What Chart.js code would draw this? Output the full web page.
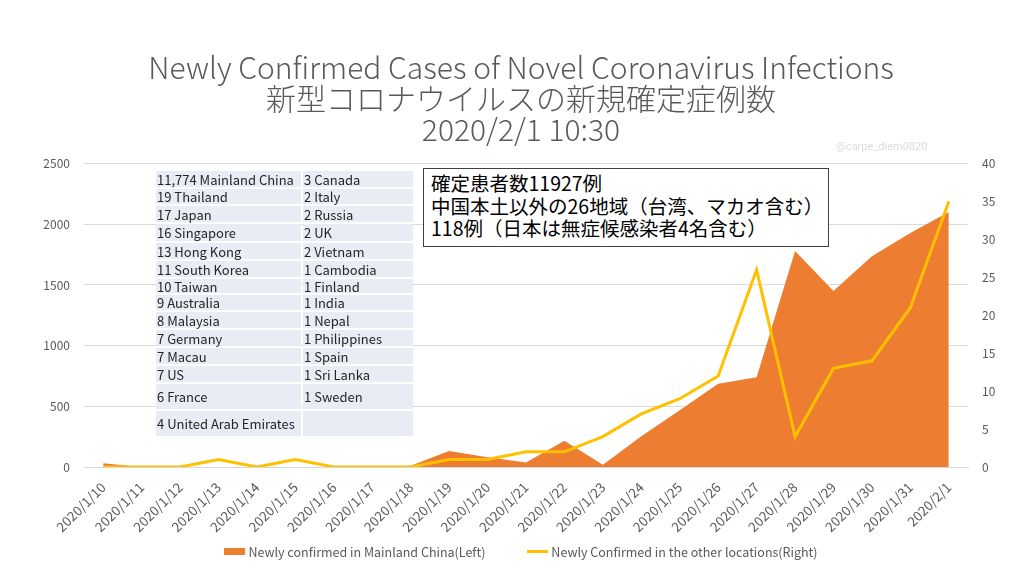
<!DOCTYPE html>
<html>
<head>
<meta charset="utf-8">
<script src="https://cdn.jsdelivr.net/npm/chart.js@4.4.1/dist/chart.umd.min.js"></script>
<style>
  body { margin: 0; background: #fff; }
  #wrap { position: relative; width: 1024px; height: 576px; font-family: "Noto Sans CJK JP", "Noto Sans", sans-serif; }
  #chart { position: absolute; left: 0; top: 0; }
  .cell { position: absolute; background: #e9ebf5; color: #262626; font-size: 13px;
          display: flex; align-items: center; padding-left: 1px; box-sizing: border-box; white-space: nowrap; }
  #note { position: absolute; left: 423px; top: 168px; width: 406px; height: 79px; box-sizing: border-box;
          border: 1px solid #404040; background: #fff; color: #000; font-size: 19.5px; line-height: 22.5px;
          padding: 3px 0 0 7px; white-space: nowrap; }
  #mark { position: absolute; left: 836px; top: 140px; font-size: 11px; color: #dcdcdc; font-family: Roboto, sans-serif; }
  #legend { position: absolute; left: 9px; width: 1024px; top: 541px; height: 20px; display: flex;
            justify-content: center; align-items: center; gap: 42px; font-size: 12.5px; color: #595959; }
  #legend .item { display: flex; align-items: center; gap: 3px; white-space: nowrap; }
  #legend .sym { width: 21px; }
</style>
</head>
<body>
<div id="wrap">
  <canvas id="chart" width="1024" height="576"></canvas>
  <div id="table"></div>
  <div id="note"></div>
  <div id="mark">@carpe_diem0820</div>
  <div id="legend"></div>
</div>
<script>
// === Data ===
const dates = ["2020/1/10", "2020/1/11", "2020/1/12", "2020/1/13", "2020/1/14", "2020/1/15",
  "2020/1/16", "2020/1/17", "2020/1/18", "2020/1/19", "2020/1/20", "2020/1/21", "2020/1/22",
  "2020/1/23", "2020/1/24", "2020/1/25", "2020/1/26", "2020/1/27", "2020/1/28", "2020/1/29",
  "2020/1/30", "2020/1/31", "2020/2/1"];
const chinaNew = [30, 0, 0, 0, 0, 0, 0, 0, 10, 131, 80, 38, 216, 19, 254, 467, 686, 740, 1779, 1451, 1737, 1929, 2101];
const otherNew = [0, 0, 0, 1, 0, 1, 0, 0, 0, 1, 1, 2, 2, 4, 7, 9, 12, 26, 4, 13, 14, 21, 35];

const titleLines = ["Newly Confirmed Cases of Novel Coronavirus Infections", "新型コロナウイルスの新規確定症例数", "2020/2/1 10:30"];
const seriesNames = ["Newly confirmed in Mainland China(Left)", "Newly Confirmed in the other locations(Right)"];

const tableLeft = ["11,774 Mainland China", "19 Thailand", "17 Japan", "16 Singapore", "13 Hong Kong",
  "11 South Korea", "10 Taiwan", "9 Australia", "8 Malaysia", "7 Germany", "7 Macau", "7 US", "6 France",
  "4 United Arab Emirates"];
const tableRight = ["3 Canada", "2 Italy", "2 Russia", "2 UK", "2 Vietnam", "1 Cambodia", "1 Finland",
  "1 India", "1 Nepal", "1 Philippines", "1 Spain", "1 Sri Lanka", "1 Sweden", ""];
const rowEdges = [170, 188, 205, 223, 242, 260, 278, 294, 311, 329, 347, 365, 383, 410, 437];

const noteLines = ["確定患者数11927例", "中国本土以外の26地域（台湾、マカオ含む）", "118例（日本は無症候感染者4名含む）"];

// === Table and note overlay ===
const tableEl = document.getElementById("table");
for (let i = 0; i < tableLeft.length; i++) {
  const top = rowEdges[i] + 1, h = rowEdges[i + 1] - rowEdges[i] - 2;
  [[156, 145, tableLeft[i]], [303, 110, tableRight[i]]].forEach(([x, w, txt]) => {
    const c = document.createElement("div");
    c.className = "cell";
    c.style.left = x + "px"; c.style.top = top + "px";
    c.style.width = w + "px"; c.style.height = h + "px";
    c.textContent = txt;
    tableEl.appendChild(c);
  });
}
document.getElementById("note").innerHTML = noteLines.map(s => "<div>" + s + "</div>").join("");

// === Chart ===
const FONT = "'Noto Sans CJK JP', 'Noto Sans', sans-serif";
const GREY = "#595959";

const chart = new Chart(document.getElementById("chart").getContext("2d"), {
  type: "line",
  data: {
    labels: dates,
    datasets: [{
      label: seriesNames[0],
      data: chinaNew,
      yAxisID: "yL",
      backgroundColor: "#ed7d31",
      borderColor: "#ed7d31",
      borderWidth: 0,
      fill: "origin",
      pointRadius: 0,
      tension: 0,
      order: 2
    }, {
      label: seriesNames[1],
      data: otherNew,
      yAxisID: "yR",
      borderColor: "#ffc000",
      backgroundColor: "#ffc000",
      borderWidth: 3,
      fill: false,
      pointRadius: 0,
      tension: 0,
      order: 1
    }]
  },
  options: {
    responsive: false,
    animation: false,
    layout: { padding: { left: 18, right: 0, top: 0, bottom: 43 } },
    plugins: {
      title: {
        display: true,
        text: titleLines,
        color: GREY,
        font: { family: FONT, size: 30, weight: 300, lineHeight: 1.04 },
        padding: { top: 52, bottom: 18 }
      },
      legend: { display: false },
      tooltip: { enabled: false }
    },
    scales: {
      x: {
        offset: true,
        grid: { display: false },
        border: { color: "#d9d9d9" },
        ticks: { autoSkip: false, minRotation: 45, maxRotation: 45, padding: 4, color: GREY, font: { family: FONT, size: 13.5 } },
        afterFit: (s) => { s.height = 66; }
      },
      yL: {
        position: "left",
        min: 0, max: 2500,
        ticks: { stepSize: 500, padding: 14, color: GREY, font: { family: FONT, size: 12 }, callback: (v) => String(v) },
        grid: { color: "#d9d9d9", drawTicks: false },
        border: { display: false },
        afterFit: (s) => { s.width = 66; }
      },
      yR: {
        position: "right",
        min: 0, max: 40,
        ticks: { stepSize: 5, padding: 14, color: GREY, font: { family: FONT, size: 12 }, callback: (v) => String(v) },
        grid: { drawOnChartArea: false, drawTicks: false },
        border: { display: false },
        afterFit: (s) => { s.width = 56; }
      }
    }
  }
});

// === HTML legend built from the datasets ===
const legendEl = document.getElementById("legend");
chart.data.datasets.forEach((ds) => {
  const item = document.createElement("div");
  item.className = "item";
  const sym = document.createElement("span");
  sym.className = "sym";
  if (ds.fill) {
    sym.style.height = "7px";
    sym.style.background = ds.backgroundColor;
  } else {
    sym.style.height = "0";
    sym.style.borderTop = ds.borderWidth + "px solid " + ds.borderColor;
  }
  const txt = document.createElement("span");
  txt.textContent = ds.label;
  item.appendChild(sym);
  item.appendChild(txt);
  legendEl.appendChild(item);
});
</script>
</body>
</html>
